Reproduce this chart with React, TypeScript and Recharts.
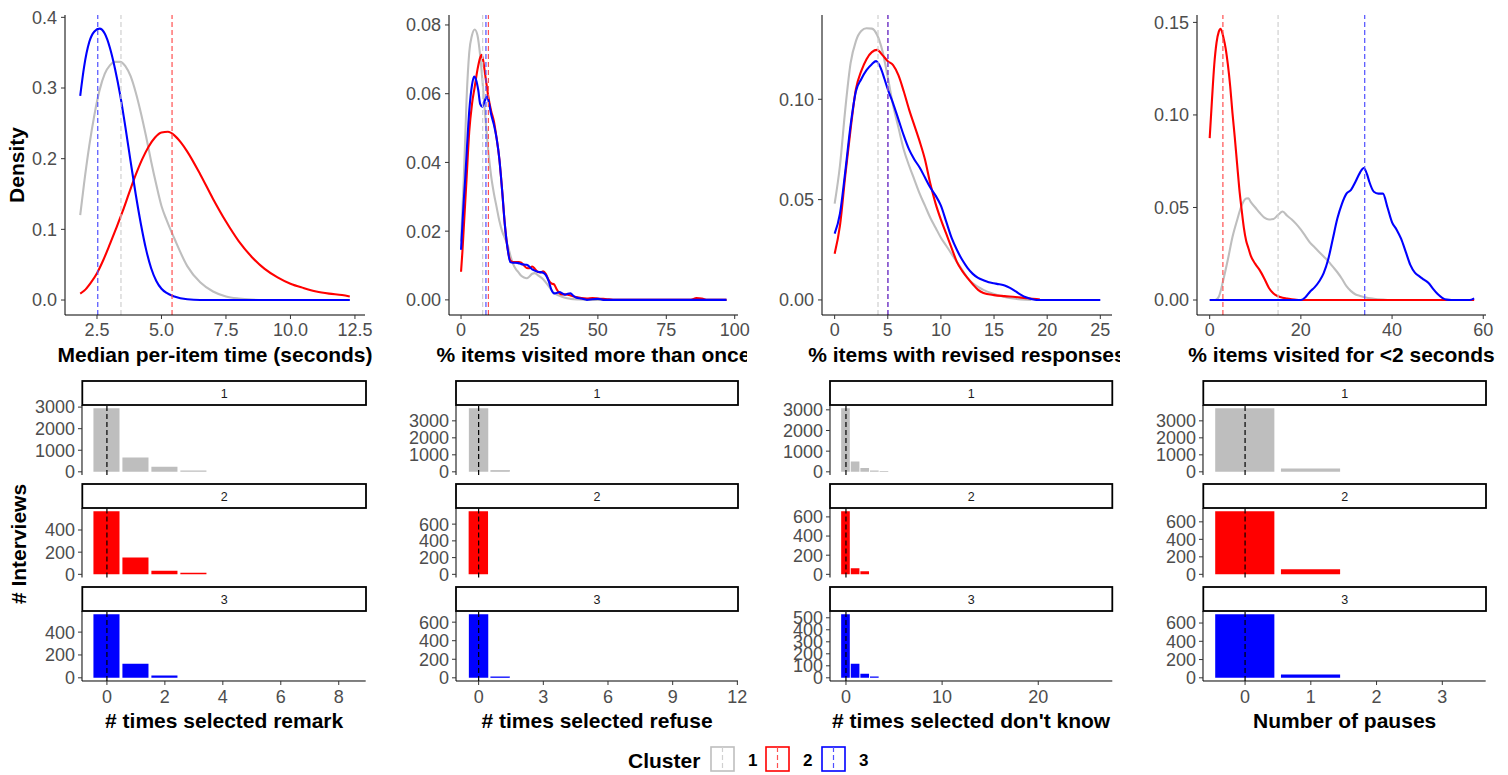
import React from 'react';
import { LineChart, Line, XAxis, YAxis, ReferenceLine, BarChart, Bar } from 'recharts';

const FONT = "'Liberation Sans', Arial, Helvetica, sans-serif";

const clusterNames = ['1', '2', '3'];
const clusterColors = ['#BEBEBE', '#FF0000', '#0000FF'];
const meanLineColors = ['#D0D0D0', '#FF5050', '#5050FF'];

// ---------- Density data (x, density) ----------
const timeGray = [
  { x: 1.85, y: 0.12 }, { x: 2.0, y: 0.165 }, { x: 2.2, y: 0.218 }, { x: 2.4, y: 0.262 }, { x: 2.6, y: 0.297 },
  { x: 2.8, y: 0.32 }, { x: 3.0, y: 0.332 }, { x: 3.2, y: 0.337 }, { x: 3.4, y: 0.337 }, { x: 3.6, y: 0.331 },
  { x: 3.8, y: 0.317 }, { x: 4.0, y: 0.294 }, { x: 4.2, y: 0.265 }, { x: 4.4, y: 0.232 }, { x: 4.6, y: 0.196 },
  { x: 4.8, y: 0.163 }, { x: 5.0, y: 0.133 }, { x: 5.2, y: 0.113 }, { x: 5.5, y: 0.087 }, { x: 6.0, y: 0.048 },
  { x: 6.5, y: 0.025 }, { x: 7.0, y: 0.012 }, { x: 7.5, y: 0.005 }, { x: 8.0, y: 0.002 }, { x: 8.5, y: 0.0005 },
  { x: 9.0, y: 0 }, { x: 12.3, y: 0 },
];
const timeRed = [
  { x: 1.85, y: 0.009 }, { x: 2.0, y: 0.013 }, { x: 2.25, y: 0.024 }, { x: 2.5, y: 0.038 }, { x: 2.75, y: 0.057 },
  { x: 3.0, y: 0.079 }, { x: 3.25, y: 0.102 }, { x: 3.5, y: 0.126 }, { x: 3.75, y: 0.152 }, { x: 4.0, y: 0.177 },
  { x: 4.25, y: 0.199 }, { x: 4.5, y: 0.217 }, { x: 4.75, y: 0.23 }, { x: 5.0, y: 0.237 }, { x: 5.25, y: 0.238 },
  { x: 5.5, y: 0.233 }, { x: 5.75, y: 0.223 }, { x: 6.0, y: 0.21 }, { x: 6.5, y: 0.178 }, { x: 7.0, y: 0.143 },
  { x: 7.5, y: 0.111 }, { x: 8.0, y: 0.083 }, { x: 8.5, y: 0.061 }, { x: 9.0, y: 0.044 }, { x: 9.5, y: 0.032 },
  { x: 10.0, y: 0.023 }, { x: 10.5, y: 0.017 }, { x: 11.0, y: 0.012 }, { x: 11.5, y: 0.009 }, { x: 12.0, y: 0.007 },
  { x: 12.3, y: 0.005 },
];
const timeBlue = [
  { x: 1.85, y: 0.289 }, { x: 2.0, y: 0.33 }, { x: 2.2, y: 0.365 }, { x: 2.4, y: 0.38 }, { x: 2.6, y: 0.384 },
  { x: 2.8, y: 0.377 }, { x: 3.0, y: 0.357 }, { x: 3.2, y: 0.327 }, { x: 3.4, y: 0.29 }, { x: 3.6, y: 0.245 },
  { x: 3.8, y: 0.197 }, { x: 4.0, y: 0.15 }, { x: 4.2, y: 0.108 }, { x: 4.4, y: 0.072 }, { x: 4.6, y: 0.045 },
  { x: 4.8, y: 0.027 }, { x: 5.0, y: 0.016 }, { x: 5.2, y: 0.01 }, { x: 5.5, y: 0.005 }, { x: 6.0, y: 0.001 },
  { x: 6.5, y: 0 }, { x: 12.3, y: 0 },
];
const timeMeans = [3.43, 5.41, 2.53];
const timeXTicks = [2.5, 5, 7.5, 10, 12.5];
const timeYTicks = [0, 0.1, 0.2, 0.3, 0.4];

const revisitGray = [
  { x: 0, y: 0.017 }, { x: 1, y: 0.035 }, { x: 2, y: 0.058 }, { x: 3, y: 0.072 }, { x: 4, y: 0.077 },
  { x: 5, y: 0.0787 }, { x: 6, y: 0.077 }, { x: 7, y: 0.071 }, { x: 8, y: 0.062 }, { x: 9, y: 0.052 },
  { x: 10, y: 0.043 }, { x: 11, y: 0.036 }, { x: 12, y: 0.031 }, { x: 13, y: 0.027 }, { x: 14, y: 0.023 },
  { x: 15, y: 0.02 }, { x: 16, y: 0.018 }, { x: 17, y: 0.016 }, { x: 18, y: 0.013 }, { x: 19, y: 0.0105 },
  { x: 20, y: 0.009 }, { x: 21, y: 0.008 }, { x: 22, y: 0.007 }, { x: 23, y: 0.0065 }, { x: 24, y: 0.0063 },
  { x: 25, y: 0.0068 }, { x: 26, y: 0.0076 }, { x: 27, y: 0.0078 }, { x: 28, y: 0.0072 }, { x: 30, y: 0.006 },
  { x: 32, y: 0.004 }, { x: 34, y: 0.002 }, { x: 36, y: 0.0012 }, { x: 38, y: 0.0006 }, { x: 40, y: 0.0003 },
  { x: 43, y: 0.0001 }, { x: 46, y: 0 }, { x: 97, y: 0 },
];
const revisitRed = [
  { x: 0, y: 0.0082 }, { x: 0.5, y: 0.014 }, { x: 1, y: 0.021 }, { x: 1.5, y: 0.028 }, { x: 2, y: 0.035 },
  { x: 3, y: 0.049 }, { x: 4, y: 0.057 }, { x: 5, y: 0.062 }, { x: 6, y: 0.067 }, { x: 7, y: 0.0705 },
  { x: 7.5, y: 0.0713 }, { x: 8, y: 0.07 }, { x: 9, y: 0.0645 }, { x: 10, y: 0.059 }, { x: 11, y: 0.055 },
  { x: 12, y: 0.052 }, { x: 13, y: 0.047 }, { x: 14, y: 0.041 }, { x: 15, y: 0.032 }, { x: 16, y: 0.022 },
  { x: 17, y: 0.015 }, { x: 18, y: 0.0115 }, { x: 19, y: 0.011 }, { x: 20, y: 0.011 }, { x: 21, y: 0.011 },
  { x: 22, y: 0.0108 }, { x: 23, y: 0.01 }, { x: 24, y: 0.0093 }, { x: 25, y: 0.0092 }, { x: 26, y: 0.0097 },
  { x: 27, y: 0.009 }, { x: 28, y: 0.0082 }, { x: 29, y: 0.008 }, { x: 30, y: 0.0083 }, { x: 31, y: 0.0075 },
  { x: 32, y: 0.0058 }, { x: 33, y: 0.0048 }, { x: 34, y: 0.0045 }, { x: 35, y: 0.003 }, { x: 36, y: 0.0019 },
  { x: 37, y: 0.0016 }, { x: 38, y: 0.0016 }, { x: 39, y: 0.0015 }, { x: 40, y: 0.0013 }, { x: 42, y: 0.0008 },
  { x: 44, y: 0.0005 }, { x: 46, y: 0.0004 }, { x: 48, y: 0.0005 }, { x: 50, y: 0.0004 }, { x: 52, y: 0.0003 },
  { x: 54, y: 0.0002 }, { x: 56, y: 0 }, { x: 84, y: 0 }, { x: 86, y: 0.0005 }, { x: 88, y: 0.0004 },
  { x: 90, y: 0 }, { x: 97, y: 0 },
];
const revisitBlue = [
  { x: 0, y: 0.0146 }, { x: 0.5, y: 0.022 }, { x: 1, y: 0.029 }, { x: 1.5, y: 0.035 }, { x: 2, y: 0.042 },
  { x: 3, y: 0.055 }, { x: 4, y: 0.0625 }, { x: 4.8, y: 0.065 }, { x: 5.5, y: 0.064 }, { x: 6.3, y: 0.061 },
  { x: 7, y: 0.057 }, { x: 7.8, y: 0.0562 }, { x: 8.7, y: 0.058 }, { x: 9.5, y: 0.0592 }, { x: 10.3, y: 0.057 },
  { x: 11, y: 0.054 }, { x: 12, y: 0.051 }, { x: 13, y: 0.047 }, { x: 14, y: 0.041 }, { x: 15, y: 0.032 },
  { x: 16, y: 0.022 }, { x: 17, y: 0.015 }, { x: 18, y: 0.011 }, { x: 19, y: 0.0108 }, { x: 20, y: 0.0108 },
  { x: 21, y: 0.0107 }, { x: 22, y: 0.0104 }, { x: 24, y: 0.0102 }, { x: 26, y: 0.0089 }, { x: 28, y: 0.0082 },
  { x: 30, y: 0.0079 }, { x: 31, y: 0.0072 }, { x: 32, y: 0.0055 }, { x: 33, y: 0.003 }, { x: 34, y: 0.0019 },
  { x: 35, y: 0.002 }, { x: 36, y: 0.0023 }, { x: 37, y: 0.0019 }, { x: 38, y: 0.0015 }, { x: 39, y: 0.0018 },
  { x: 40, y: 0.0019 }, { x: 41, y: 0.0012 }, { x: 42, y: 0.0007 }, { x: 44, y: 0.0004 }, { x: 46, y: 0 },
  { x: 48, y: 0.0002 }, { x: 50, y: 0.0003 }, { x: 52, y: 0 }, { x: 97, y: 0 },
];
const revisitMeans = [7.9, 10.0, 9.1];
const revisitXTicks = [0, 25, 50, 75, 100];
const revisitYTicks = [0, 0.02, 0.04, 0.06, 0.08];

const reviseGray = [
  { x: 0, y: 0.048 }, { x: 0.5, y: 0.067 }, { x: 1, y: 0.095 }, { x: 1.5, y: 0.118 }, { x: 2, y: 0.129 },
  { x: 2.5, y: 0.134 }, { x: 3, y: 0.1354 }, { x: 3.5, y: 0.1352 }, { x: 4, y: 0.132 }, { x: 4.5, y: 0.124 },
  { x: 5, y: 0.111 }, { x: 5.5, y: 0.097 }, { x: 6, y: 0.086 }, { x: 6.5, y: 0.075 }, { x: 7, y: 0.067 },
  { x: 7.5, y: 0.06 }, { x: 8, y: 0.053 }, { x: 8.5, y: 0.047 }, { x: 9, y: 0.041 }, { x: 9.5, y: 0.036 },
  { x: 10, y: 0.031 }, { x: 10.5, y: 0.027 }, { x: 11, y: 0.023 }, { x: 11.5, y: 0.019 }, { x: 12, y: 0.015 },
  { x: 12.5, y: 0.011 }, { x: 13, y: 0.0083 }, { x: 13.5, y: 0.0065 }, { x: 14, y: 0.005 }, { x: 15, y: 0.003 },
  { x: 16, y: 0.0015 }, { x: 17, y: 0.0006 }, { x: 18, y: 0.0001 }, { x: 18.5, y: 0 },
];
const reviseRed = [
  { x: 0, y: 0.023 }, { x: 0.5, y: 0.037 }, { x: 1, y: 0.062 }, { x: 1.5, y: 0.085 }, { x: 2, y: 0.105 },
  { x: 2.5, y: 0.114 }, { x: 3, y: 0.12 }, { x: 3.5, y: 0.1235 }, { x: 4, y: 0.1246 }, { x: 4.5, y: 0.122 },
  { x: 5, y: 0.119 }, { x: 5.5, y: 0.117 }, { x: 6, y: 0.112 }, { x: 6.5, y: 0.104 }, { x: 7, y: 0.095 },
  { x: 7.5, y: 0.087 }, { x: 8, y: 0.079 }, { x: 8.5, y: 0.07 }, { x: 9, y: 0.058 }, { x: 9.5, y: 0.048 },
  { x: 10, y: 0.04 }, { x: 10.5, y: 0.033 }, { x: 11, y: 0.026 }, { x: 11.5, y: 0.019 }, { x: 12, y: 0.0145 },
  { x: 12.5, y: 0.011 }, { x: 13, y: 0.0078 }, { x: 13.5, y: 0.005 }, { x: 14, y: 0.0035 }, { x: 15, y: 0.0024 },
  { x: 16, y: 0.0019 }, { x: 17, y: 0.0015 }, { x: 18, y: 0.0009 }, { x: 19, y: 0.0004 }, { x: 19.3, y: 0.0003 },
];
const reviseBlue = [
  { x: 0, y: 0.033 }, { x: 0.5, y: 0.043 }, { x: 1, y: 0.064 }, { x: 1.5, y: 0.087 }, { x: 2, y: 0.104 },
  { x: 2.5, y: 0.11 }, { x: 3, y: 0.1145 }, { x: 3.5, y: 0.1175 }, { x: 3.9, y: 0.119 }, { x: 4.3, y: 0.116 },
  { x: 4.7, y: 0.11 }, { x: 5, y: 0.105 }, { x: 5.5, y: 0.098 }, { x: 6, y: 0.09 }, { x: 6.5, y: 0.082 },
  { x: 7, y: 0.075 }, { x: 7.5, y: 0.07 }, { x: 8, y: 0.066 }, { x: 8.5, y: 0.061 }, { x: 9, y: 0.056 },
  { x: 9.5, y: 0.052 }, { x: 10, y: 0.047 }, { x: 10.5, y: 0.039 }, { x: 11, y: 0.031 }, { x: 11.5, y: 0.025 },
  { x: 12, y: 0.02 }, { x: 12.5, y: 0.016 }, { x: 13, y: 0.013 }, { x: 13.5, y: 0.011 }, { x: 14, y: 0.0098 },
  { x: 14.5, y: 0.0088 }, { x: 15, y: 0.0083 }, { x: 15.5, y: 0.0078 }, { x: 16, y: 0.0072 }, { x: 16.5, y: 0.006 },
  { x: 17, y: 0.0044 }, { x: 17.5, y: 0.0027 }, { x: 18, y: 0.0013 }, { x: 18.5, y: 0.0005 }, { x: 19, y: 0 },
  { x: 25, y: 0 },
];
const reviseMeans = [4.08, 5.0, 5.02];
const reviseXTicks = [0, 5, 10, 15, 20, 25];
const reviseYTicks = [0, 0.05, 0.1];

const fastGray = [
  { x: 0, y: 0 }, { x: 1.2, y: 0 }, { x: 2, y: 0.0018 }, { x: 3, y: 0.011 }, { x: 4, y: 0.022 }, { x: 5, y: 0.034 },
  { x: 6, y: 0.043 }, { x: 7, y: 0.051 }, { x: 8, y: 0.0548 }, { x: 8.5, y: 0.055 }, { x: 9, y: 0.053 },
  { x: 10, y: 0.05 }, { x: 11, y: 0.047 }, { x: 12, y: 0.0445 }, { x: 13, y: 0.0435 }, { x: 14, y: 0.0438 },
  { x: 15, y: 0.046 }, { x: 16, y: 0.0478 }, { x: 17, y: 0.0455 }, { x: 18, y: 0.0435 }, { x: 19, y: 0.041 },
  { x: 20, y: 0.038 }, { x: 21, y: 0.0345 }, { x: 22, y: 0.031 }, { x: 23, y: 0.0285 }, { x: 24, y: 0.026 },
  { x: 25, y: 0.0235 }, { x: 26, y: 0.021 }, { x: 27, y: 0.018 }, { x: 28, y: 0.015 }, { x: 29, y: 0.0115 },
  { x: 30, y: 0.0075 }, { x: 31, y: 0.0048 }, { x: 32, y: 0.003 }, { x: 33, y: 0.0022 }, { x: 34, y: 0.0015 },
  { x: 36, y: 0.0007 }, { x: 38, y: 0.0002 }, { x: 39, y: 0 },
];
const fastRed = [
  { x: 0, y: 0.0875 }, { x: 0.5, y: 0.108 }, { x: 1, y: 0.127 }, { x: 1.5, y: 0.139 }, { x: 2, y: 0.145 },
  { x: 2.4, y: 0.1466 }, { x: 3, y: 0.142 }, { x: 3.5, y: 0.136 }, { x: 4, y: 0.127 }, { x: 4.5, y: 0.1155 },
  { x: 5, y: 0.101 }, { x: 5.5, y: 0.088 }, { x: 6, y: 0.074 }, { x: 6.5, y: 0.06 }, { x: 7, y: 0.049 },
  { x: 7.5, y: 0.039 }, { x: 8, y: 0.032 }, { x: 8.5, y: 0.028 }, { x: 9, y: 0.024 }, { x: 10, y: 0.0195 },
  { x: 11, y: 0.016 }, { x: 12, y: 0.0115 }, { x: 13, y: 0.0065 }, { x: 14, y: 0.0035 }, { x: 15, y: 0.002 },
  { x: 16, y: 0.0012 }, { x: 17, y: 0.0008 }, { x: 18, y: 0.0004 }, { x: 19, y: 0.0001 }, { x: 20, y: 0 },
  { x: 58, y: 0 },
];
const fastBlue = [
  { x: 0, y: 0 }, { x: 20, y: 0 }, { x: 21, y: 0.0015 }, { x: 22, y: 0.0045 }, { x: 23, y: 0.0068 },
  { x: 24, y: 0.01 }, { x: 25, y: 0.0145 }, { x: 26, y: 0.022 }, { x: 27, y: 0.033 }, { x: 28, y: 0.044 },
  { x: 29, y: 0.052 }, { x: 30, y: 0.0575 }, { x: 31, y: 0.0595 }, { x: 32, y: 0.064 }, { x: 33, y: 0.069 },
  { x: 33.8, y: 0.0713 }, { x: 34.5, y: 0.068 }, { x: 35, y: 0.064 }, { x: 36, y: 0.0585 }, { x: 37, y: 0.0575 },
  { x: 38, y: 0.0575 }, { x: 39, y: 0.05 }, { x: 40, y: 0.042 }, { x: 41, y: 0.038 }, { x: 42, y: 0.033 },
  { x: 43, y: 0.026 }, { x: 44, y: 0.019 }, { x: 45, y: 0.0148 }, { x: 46, y: 0.0128 }, { x: 47, y: 0.011 },
  { x: 48, y: 0.0092 }, { x: 49, y: 0.006 }, { x: 50, y: 0.0032 }, { x: 51, y: 0.0012 }, { x: 52, y: 0.0002 },
  { x: 53, y: 0 }, { x: 57, y: 0 }, { x: 58, y: 0.0009 },
];
const fastMeans = [15.0, 2.9, 34.0];
const fastXTicks = [0, 20, 40, 60];
const fastYTicks = [0, 0.05, 0.1, 0.15];

// ---------- Count data (bins 0,1,2,...) ----------
const remarkCounts1 = [2950, 666, 232, 65];
const remarkCounts2 = [570, 152, 33, 15];
const remarkCounts3 = [557, 123, 20];
const refuseCounts1 = [3745, 100];
const refuseCounts2 = [755];
const refuseCounts3 = [686, 14];
const dontKnowCounts1 = [3080, 503, 180, 60, 45];
const dontKnowCounts2 = [660, 63, 31];
const dontKnowCounts3 = [530, 117, 33, 11];
const pausesCounts1 = [3745, 200];
const pausesCounts2 = [722, 57];
const pausesCounts3 = [697, 37];

const remarkXTicks = [0, 2, 4, 6, 8];
const refuseXTicks = [0, 3, 6, 9, 12];
const dontKnowXTicks = [0, 10, 20];
const pausesXTicks = [0, 1, 2, 3];
const bigYTicks = [0, 1000, 2000, 3000];
const y200Ticks = [0, 200, 400];
const y600Ticks = [0, 200, 400, 600];
const y500Ticks = [0, 100, 200, 300, 400, 500];
const referenceCount = 0;

// ---------- Layout ----------
const TICK = { fill: '#4D4D4D', fontSize: 18, fontFamily: FONT };
const YW = 60;
const MT = 10;
const MR = 22;

type Rect = { x0: number; x1: number; y0: number; y1: number };
type Pt = { x: number; y: number };

function DensityPanel(props: {
  plot: Rect; xDomain: number[]; yDomain: number[]; xTicks: number[]; yTicks: number[];
  xDigits: number; yDigits: number; series: Pt[][]; means: number[];
}) {
  const { plot, xDomain, yDomain, xTicks, yTicks, xDigits, yDigits, series, means } = props;
  const XH = 40;
  const w = plot.x1 - plot.x0 + YW + MR;
  const h = plot.y1 - plot.y0 + MT + XH;
  return (
    <div style={{ position: 'absolute', left: plot.x0 - YW, top: plot.y0 - MT }}>
      <LineChart width={w} height={h} margin={{ top: MT, right: MR, left: 0, bottom: 0 }}>
        <XAxis dataKey="x" type="number" domain={xDomain} ticks={xTicks} allowDataOverflow interval={0}
          tickFormatter={(v: number) => v.toFixed(xDigits)} tick={TICK} tickSize={4} tickMargin={4}
          tickLine={{ stroke: '#333333' }} axisLine={{ stroke: '#000000' }} height={XH} />
        <YAxis type="number" domain={yDomain} ticks={yTicks} allowDataOverflow interval={0}
          tickFormatter={(v: number) => v.toFixed(yDigits)} tick={TICK} tickSize={4} tickMargin={4}
          tickLine={{ stroke: '#333333' }} axisLine={{ stroke: '#000000' }} width={YW} />
        {series.map((s, i) => (
          <Line key={'l' + i} data={s} dataKey="y" type="monotone" stroke={clusterColors[i]} strokeWidth={2.1}
            dot={false} activeDot={false} isAnimationActive={false} />
        ))}
        {means.map((m, i) => (
          <ReferenceLine key={'m' + i} x={m} stroke={meanLineColors[i]} strokeWidth={1.2} strokeDasharray="5 3" />
        ))}
      </LineChart>
    </div>
  );
}

function Facet(props: {
  plot: Rect; xDomain: number[]; xTicks: number[]; yTicks: number[]; counts: number[]; color: string; showX: boolean;
}) {
  const { plot, xDomain, xTicks, yTicks, counts, color, showX } = props;
  const XH = showX ? 40 : 0;
  const MB = showX ? 0 : 12;
  const data = counts.map((n, i) => ({ x: i, n }));
  const M = Math.max(...counts);
  const yDomain = [-0.05 * M, 1.05 * M];
  const plotW = plot.x1 - plot.x0;
  const barSize = (0.9 * plotW) / (xDomain[1] - xDomain[0]);
  const w = plotW + YW + MR;
  const h = plot.y1 - plot.y0 + MT + XH + MB;
  return (
    <div style={{ position: 'absolute', left: plot.x0 - YW, top: plot.y0 - MT }}>
      <BarChart width={w} height={h} data={data} margin={{ top: MT, right: MR, left: 0, bottom: MB }}>
        <XAxis dataKey="x" type="number" domain={xDomain} ticks={xTicks} allowDataOverflow interval={0} hide={!showX}
          tick={TICK} tickSize={4} tickMargin={5} tickLine={{ stroke: '#333333' }} axisLine={{ stroke: '#000000' }} height={XH} />
        <YAxis type="number" domain={yDomain} ticks={yTicks} allowDataOverflow interval={0}
          tick={TICK} tickSize={4} tickMargin={3} tickLine={{ stroke: '#333333' }} axisLine={{ stroke: '#000000' }} width={YW} />
        <Bar dataKey="n" fill={color} barSize={barSize} isAnimationActive={false} />
        <ReferenceLine x={referenceCount} stroke="#000000" strokeWidth={1.2} strokeDasharray="5 3" />
      </BarChart>
    </div>
  );
}

const topPlots: Rect[] = [
  { x0: 65, x1: 365, y0: 15, y1: 315 },
  { x0: 449, x1: 738, y0: 15, y1: 315 },
  { x0: 822, x1: 1112, y0: 15, y1: 315 },
  { x0: 1197, x1: 1486, y0: 15, y1: 315 },
];
const bottomCols = [
  { x0: 82.3, x1: 366 },
  { x0: 456, x1: 738 },
  { x0: 830, x1: 1112.3 },
  { x0: 1203.3, x1: 1486 },
];
const facetRows = [
  { y0: 405, y1: 475, s0: 381 },
  { y0: 508, y1: 577.5, s0: 484 },
  { y0: 611, y1: 681, s0: 587 },
];

const densityPanels = [
  { title: 'Median per-item time (seconds)', xDomain: [1.26, 12.89], yDomain: [-0.0212, 0.4033], xTicks: timeXTicks, yTicks: timeYTicks, xDigits: 1, yDigits: 1, series: [timeGray, timeRed, timeBlue], means: timeMeans, clip: null as null | number[] },
  { title: '% items visited more than once', xDomain: [-4.4, 101.2], yDomain: [-0.0044, 0.0829], xTicks: revisitXTicks, yTicks: revisitYTicks, xDigits: 0, yDigits: 2, series: [revisitGray, revisitRed, revisitBlue], means: revisitMeans, clip: [374, 747] },
  { title: '% items with revised responses', xDomain: [-1.19, 26.1], yDomain: [-0.0075, 0.142], xTicks: reviseXTicks, yTicks: reviseYTicks, xDigits: 0, yDigits: 2, series: [reviseGray, reviseRed, reviseBlue], means: reviseMeans, clip: [747, 1120] },
  { title: '% items visited for <2 seconds', xDomain: [-2.78, 60.6], yDomain: [-0.0081, 0.154], xTicks: fastXTicks, yTicks: fastYTicks, xDigits: 0, yDigits: 2, series: [fastGray, fastRed, fastBlue], means: fastMeans, clip: null },
];

const histPanels = [
  { title: '# times selected remark', xDomain: [-0.86, 8.93], xTicks: remarkXTicks, counts: [remarkCounts1, remarkCounts2, remarkCounts3], yTicks: [bigYTicks, y200Ticks, y200Ticks] },
  { title: '# times selected refuse', xDomain: [-1.05, 12.03], xTicks: refuseXTicks, counts: [refuseCounts1, refuseCounts2, refuseCounts3], yTicks: [bigYTicks, y600Ticks, y600Ticks] },
  { title: "# times selected don't know", xDomain: [-1.66, 27.7], xTicks: dontKnowXTicks, counts: [dontKnowCounts1, dontKnowCounts2, dontKnowCounts3], yTicks: [bigYTicks, y600Ticks, y500Ticks] },
  { title: 'Number of pauses', xDomain: [-0.64, 3.66], xTicks: pausesXTicks, counts: [pausesCounts1, pausesCounts2, pausesCounts3], yTicks: [bigYTicks, y600Ticks, y600Ticks] },
];

export default function App() {
  return (
    <div style={{ position: 'absolute', left: 0, top: 0, width: 1508, height: 775, background: '#FFFFFF', fontFamily: FONT, overflow: 'hidden' }}>
      <svg width={1508} height={775} style={{ position: 'absolute', left: 0, top: 0 }}>
        <defs>
          {densityPanels.map((p, i) => p.clip ? (
            <clipPath key={'c' + i} id={'titleclip' + i}>
              <rect x={p.clip[0]} y={330} width={p.clip[1] - p.clip[0]} height={45} />
            </clipPath>
          ) : null)}
        </defs>
        {densityPanels.map((p, i) => (
          <text key={'tt' + i} x={(topPlots[i].x0 + topPlots[i].x1) / 2} y={361.5} textAnchor="middle"
            fontWeight="bold" fontSize={21} fill="#000" clipPath={p.clip ? `url(#titleclip${i})` : undefined}>{p.title}</text>
        ))}
        {histPanels.map((p, i) => (
          <text key={'bt' + i} x={(bottomCols[i].x0 + bottomCols[i].x1) / 2} y={727.5} textAnchor="middle"
            fontWeight="bold" fontSize={21} fill="#000">{p.title}</text>
        ))}
        {bottomCols.map((c, i) => facetRows.map((r, j) => (
          <g key={'s' + i + '-' + j}>
            <rect x={c.x0} y={r.s0} width={c.x1 - c.x0} height={r.y0 - r.s0} fill="#FFFFFF" stroke="#000000" strokeWidth={1.8} />
            <text x={(c.x0 + c.x1) / 2} y={(r.s0 + r.y0) / 2 + 4.5} textAnchor="middle" fontSize={12.5} fill="#1A1A1A">{clusterNames[j]}</text>
          </g>
        )))}
        <text transform="translate(24,165) rotate(-90)" textAnchor="middle" fontWeight="bold" fontSize={21} fill="#000">Density</text>
        <text transform="translate(26,544) rotate(-90)" textAnchor="middle" fontWeight="bold" fontSize={21} fill="#000"># Interviews</text>
        <text x={628} y={768} fontWeight="bold" fontSize={21} fill="#000">Cluster</text>
        {clusterNames.map((name, i) => {
          const kx = [711, 766, 822][i];
          return (
            <g key={'lg' + i}>
              <rect x={kx} y={747} width={23} height={24} fill="#FFFFFF" stroke={clusterColors[i]} strokeWidth={1.6} />
              <line x1={kx + 11.5} x2={kx + 11.5} y1={747} y2={771} stroke={meanLineColors[i]} strokeWidth={1.2} strokeDasharray="5 3" />
              <text x={kx + 37} y={766} fontWeight="bold" fontSize={17} fill="#000">{name}</text>
            </g>
          );
        })}
      </svg>
      {densityPanels.map((p, i) => (
        <DensityPanel key={'d' + i} plot={topPlots[i]} xDomain={p.xDomain} yDomain={p.yDomain} xTicks={p.xTicks}
          yTicks={p.yTicks} xDigits={p.xDigits} yDigits={p.yDigits} series={p.series} means={p.means} />
      ))}
      {histPanels.map((p, i) => facetRows.map((r, j) => (
        <Facet key={'f' + i + '-' + j} plot={{ x0: bottomCols[i].x0, x1: bottomCols[i].x1, y0: r.y0, y1: r.y1 }}
          xDomain={p.xDomain} xTicks={p.xTicks} yTicks={p.yTicks[j]} counts={p.counts[j]} color={clusterColors[j]} showX={j === 2} />
      )))}
    </div>
  );
}
